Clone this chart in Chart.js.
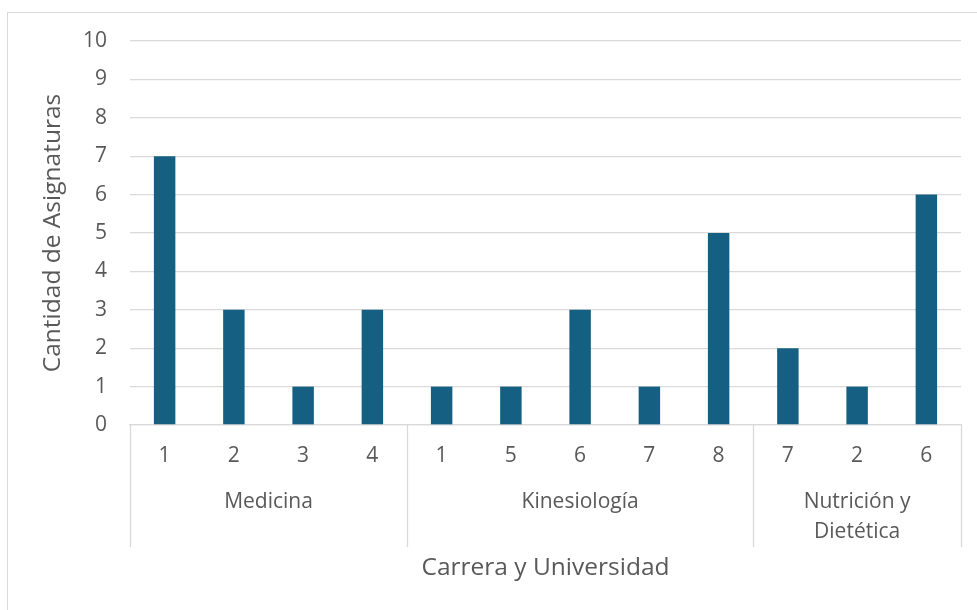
<!DOCTYPE html>
<html>
<head>
<meta charset="utf-8">
<script src="https://cdn.jsdelivr.net/npm/chart.js@4.4.1/dist/chart.umd.min.js"></script>
<style>
  html, body { margin: 0; padding: 0; background: #ffffff; }
  #box { width: 977px; height: 610px; }
</style>
</head>
<body>
<div id="box"><canvas id="myChart"></canvas></div>
<script>
// carreras (grupos) y cuantas universidades tiene cada una
const careers = [['Medicina'], ['Kinesiología'], ['Nutrición y', 'Dietética']];
const careerSizes = [4, 5, 3];
// universidad de cada barra
const universities = ['1', '2', '3', '4', '1', '5', '6', '7', '8', '7', '2', '6'];
// cantidad de asignaturas
const subjectCounts = [7, 3, 1, 3, 1, 1, 3, 1, 5, 2, 1, 6];
const yMax = 10;

const textColor = '#595959';
const lineColor = '#d9d9d9';
const fontFamily = '"Open Sans", sans-serif';

// grupos de carrera bajo el eje x + marco del grafico
const groupAxisPlugin = {
  id: 'groupAxis',
  beforeDraw(chart) {
    const ctx = chart.ctx;
    ctx.save();
    ctx.strokeStyle = lineColor;
    ctx.lineWidth = 1;
    ctx.strokeRect(7.5, 12.5, chart.width + 20, chart.height + 20);
    ctx.restore();
  },
  afterDraw(chart) {
    const ctx = chart.ctx;
    const x = chart.scales.x;
    const area = chart.chartArea;
    const step = x.width / universities.length;
    const lineBottom = 547;

    ctx.save();
    ctx.strokeStyle = lineColor;
    ctx.lineWidth = 1.3;
    ctx.fillStyle = textColor;
    ctx.font = '21px ' + fontFamily;
    ctx.textAlign = 'center';
    ctx.textBaseline = 'middle';

    let start = 0;
    const edges = [];
    careerSizes.forEach((size, i) => {
      const left = x.getPixelForValue(start) - step / 2;
      const right = x.getPixelForValue(start + size - 1) + step / 2;
      edges.push(left);
      if (i === careerSizes.length - 1) edges.push(right);
      const mid = (left + right) / 2;
      careers[i].forEach((line, j) => {
        ctx.fillText(line, mid, 502 + j * 30);
      });
      start += size;
    });

    edges.forEach(ex => {
      ctx.beginPath();
      ctx.moveTo(Math.round(ex) + 0.5, area.bottom);
      ctx.lineTo(Math.round(ex) + 0.5, lineBottom);
      ctx.stroke();
    });
    ctx.restore();
  }
};

const chartContext = document.getElementById('myChart').getContext('2d');
new Chart(chartContext, {
  type: 'bar',
  data: {
    labels: universities,
    datasets: [{
      data: subjectCounts,
      backgroundColor: '#156082',
      barPercentage: 0.31,
      categoryPercentage: 1
    }]
  },
  options: {
    responsive: true,
    maintainAspectRatio: false,
    animation: false,
    layout: { padding: { top: 41, right: 16, left: 0, bottom: 0 } },
    plugins: {
      legend: { display: false },
      tooltip: { enabled: false }
    },
    scales: {
      x: {
        grid: { display: false, drawTicks: false },
        border: { display: true, color: lineColor, width: 1.3 },
        ticks: {
          color: textColor,
          font: { size: 21, family: fontFamily },
          padding: 18,
          maxRotation: 0,
          autoSkip: false
        },
        title: {
          display: true,
          text: 'Carrera y Universidad',
          color: textColor,
          font: { size: 24.5, family: fontFamily },
          padding: { top: 0, bottom: 27 }
        },
        afterFit(scale) { scale.height = 185; }
      },
      y: {
        min: 0,
        max: yMax,
        grid: { color: lineColor, lineWidth: 1.3, drawTicks: false },
        border: { display: false },
        ticks: {
          stepSize: 1,
          color: textColor,
          font: { size: 21, family: fontFamily },
          padding: 23
        },
        title: {
          display: true,
          text: 'Cantidad de Asignaturas',
          color: textColor,
          font: { size: 24.5, family: fontFamily },
          padding: { top: 38, bottom: 0 }
        },
        afterFit(scale) { scale.width = 130; }
      }
    }
  },
  plugins: [groupAxisPlugin]
});
</script>
</body>
</html>
